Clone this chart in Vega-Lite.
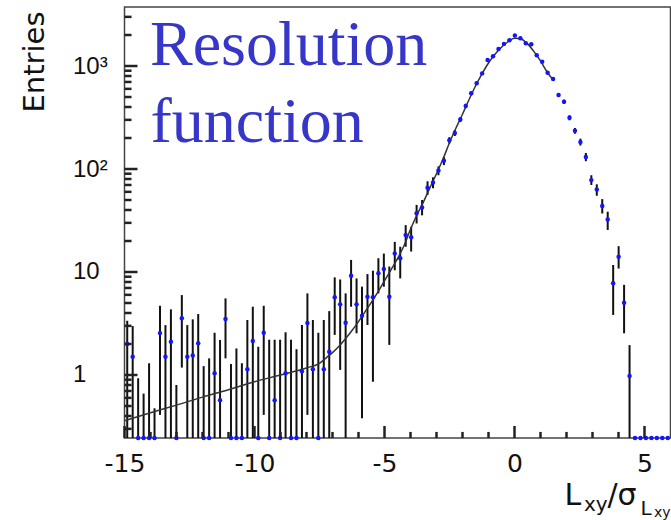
{
  "$schema": "https://vega.github.io/schema/vega-lite/v6.json",
  "width": 546,
  "height": 431,
  "autosize": "none",
  "padding": {"left": 124.5, "top": 7, "right": 0.5, "bottom": 82},
  "background": "white",
  "config": {
    "view": {"stroke": "#444", "strokeWidth": 1.5},
    "axis": {"grid": false, "domain": false, "ticks": false, "labelFlush": false, "labelOverlap": false, "labelBound": false}
  },
  "datasets": {
    "bins": [
      {"x": -14.895, "v": 2.0, "lo": 0, "hi": 3.36},
      {"x": -14.685, "v": 1.5, "lo": 0, "hi": 2.99},
      {"x": -14.475, "v": 0, "lo": 0, "hi": 0.93},
      {"x": -14.265, "v": 0, "lo": 0, "hi": 0.66},
      {"x": -14.055, "v": 0, "lo": 0, "hi": 1.30},
      {"x": -13.845, "v": 0, "lo": 0, "hi": 0.475},
      {"x": -13.635, "v": 2.55, "lo": 0.41, "hi": 4.7},
      {"x": -13.425, "v": 1.5, "lo": 0, "hi": 3.05},
      {"x": -13.215, "v": 2.1, "lo": 0, "hi": 4.34},
      {"x": -13.005, "v": 0, "lo": 0, "hi": 0.80},
      {"x": -12.795, "v": 3.55, "lo": 1.18, "hi": 5.97},
      {"x": -12.585, "v": 1.5, "lo": 0, "hi": 3.05},
      {"x": -12.375, "v": 1.55, "lo": 0, "hi": 3.47},
      {"x": -12.165, "v": 2.03, "lo": 0, "hi": 3.91},
      {"x": -11.955, "v": 0, "lo": 0, "hi": 1.22},
      {"x": -11.745, "v": 0, "lo": 0, "hi": 1.45},
      {"x": -11.535, "v": 1.04, "lo": 0, "hi": 2.57},
      {"x": -11.325, "v": 0.57, "lo": 0, "hi": 2.19},
      {"x": -11.115, "v": 3.49, "lo": 1.45, "hi": 5.54},
      {"x": -10.905, "v": 0, "lo": 0, "hi": 1.28},
      {"x": -10.695, "v": 0, "lo": 0, "hi": 1.81},
      {"x": -10.485, "v": 0, "lo": 0, "hi": 1.3},
      {"x": -10.275, "v": 1.14, "lo": 0, "hi": 3.42},
      {"x": -10.065, "v": 2.14, "lo": 0, "hi": 4.6},
      {"x": -9.855, "v": 0, "lo": 0, "hi": 1.88},
      {"x": -9.645, "v": 2.57, "lo": 0.41, "hi": 4.7},
      {"x": -9.435, "v": 0, "lo": 0, "hi": 2.2},
      {"x": -9.225, "v": 0.57, "lo": 0, "hi": 2.2},
      {"x": -9.015, "v": 0, "lo": 0, "hi": 2.2},
      {"x": -8.805, "v": 1.04, "lo": 0, "hi": 2.6},
      {"x": -8.595, "v": 0, "lo": 0, "hi": 2.2},
      {"x": -8.385, "v": 0, "lo": 0, "hi": 1.78},
      {"x": -8.175, "v": 1.09, "lo": 0, "hi": 3.06},
      {"x": -7.965, "v": 3.2, "lo": 0.41, "hi": 6.2},
      {"x": -7.755, "v": 1.14, "lo": 0, "hi": 3.42},
      {"x": -7.545, "v": 0, "lo": 0, "hi": 2.57},
      {"x": -7.335, "v": 1.14, "lo": 0, "hi": 3.42},
      {"x": -7.125, "v": 1.68, "lo": 0, "hi": 4.17},
      {"x": -6.915, "v": 5.68, "lo": 2.45, "hi": 8.87},
      {"x": -6.705, "v": 4.85, "lo": 1.12, "hi": 8.46},
      {"x": -6.495, "v": 3.22, "lo": 0, "hi": 6.2},
      {"x": -6.285, "v": 9.2, "lo": 4.6, "hi": 13.1},
      {"x": -6.075, "v": 4.85, "lo": 2.54, "hi": 8.66},
      {"x": -5.865, "v": 3.76, "lo": 0.38, "hi": 7.2},
      {"x": -5.655, "v": 5.76, "lo": 3.06, "hi": 9.55},
      {"x": -5.445, "v": 5.68, "lo": 0.86, "hi": 10.3},
      {"x": -5.235, "v": 9.7, "lo": 6.2, "hi": 13.6},
      {"x": -5.025, "v": 10.7, "lo": 7.2, "hi": 15.1},
      {"x": -4.815, "v": 5.76, "lo": 1.96, "hi": 11.3},
      {"x": -4.605, "v": 15.1, "lo": 10.4, "hi": 19.6},
      {"x": -4.395, "v": 13.6, "lo": 8.66, "hi": 17.6},
      {"x": -4.185, "v": 22.9, "lo": 17.6, "hi": 28.5},
      {"x": -3.975, "v": 21.7, "lo": 15.8, "hi": 27.5},
      {"x": -3.765, "v": 37.2, "lo": 29.6, "hi": 44.8},
      {"x": -3.555, "v": 42.4, "lo": 35.5, "hi": 50},
      {"x": -3.345, "v": 65.7, "lo": 56, "hi": 76},
      {"x": -3.135, "v": 74, "lo": 65, "hi": 83},
      {"x": -2.925, "v": 96.5, "lo": 87, "hi": 106},
      {"x": -2.715, "v": 120, "lo": 109, "hi": 131},
      {"x": -2.505, "v": 190, "lo": 176, "hi": 204},
      {"x": -2.295, "v": 224, "lo": 209, "hi": 239},
      {"x": -2.085, "v": 303, "lo": 286, "hi": 320},
      {"x": -1.875, "v": 410, "lo": 390, "hi": 430},
      {"x": -1.665, "v": 543, "lo": 520, "hi": 566},
      {"x": -1.455, "v": 680, "lo": 654, "hi": 706},
      {"x": -1.245, "v": 848, "lo": 819, "hi": 877},
      {"x": -1.035, "v": 1146, "lo": 1112, "hi": 1180},
      {"x": -0.825, "v": 1241, "lo": 1206, "hi": 1276},
      {"x": -0.615, "v": 1465, "lo": 1427, "hi": 1503},
      {"x": -0.405, "v": 1640, "lo": 1600, "hi": 1680},
      {"x": -0.195, "v": 1775, "lo": 1733, "hi": 1817},
      {"x": 0.015, "v": 1980, "lo": 1936, "hi": 2024},
      {"x": 0.225, "v": 1860, "lo": 1817, "hi": 1903},
      {"x": 0.435, "v": 1660, "lo": 1619, "hi": 1701},
      {"x": 0.645, "v": 1630, "lo": 1590, "hi": 1670},
      {"x": 0.855, "v": 1270, "lo": 1234, "hi": 1306},
      {"x": 1.065, "v": 1100, "lo": 1067, "hi": 1133},
      {"x": 1.275, "v": 861, "lo": 832, "hi": 890},
      {"x": 1.485, "v": 748, "lo": 721, "hi": 775},
      {"x": 1.695, "v": 523, "lo": 500, "hi": 546},
      {"x": 1.905, "v": 450, "lo": 429, "hi": 471},
      {"x": 2.115, "v": 315, "lo": 297, "hi": 333},
      {"x": 2.325, "v": 235, "lo": 220, "hi": 250},
      {"x": 2.535, "v": 183, "lo": 169, "hi": 197},
      {"x": 2.745, "v": 131, "lo": 119, "hi": 143},
      {"x": 2.955, "v": 78, "lo": 70, "hi": 87},
      {"x": 3.165, "v": 63.2, "lo": 55, "hi": 71},
      {"x": 3.375, "v": 43.8, "lo": 37, "hi": 51},
      {"x": 3.585, "v": 32.4, "lo": 25.6, "hi": 38.5},
      {"x": 3.795, "v": 7.76, "lo": 3.83, "hi": 11.7},
      {"x": 4.005, "v": 14.1, "lo": 10.8, "hi": 17.8},
      {"x": 4.215, "v": 5.04, "lo": 2.54, "hi": 7.5},
      {"x": 4.425, "v": 0.98, "lo": 0, "hi": 1.95},
      {"x": 4.635, "v": 0, "lo": 0, "hi": 0},
      {"x": 4.845, "v": 0, "lo": 0, "hi": 0},
      {"x": 5.055, "v": 0, "lo": 0, "hi": 0},
      {"x": 5.265, "v": 0, "lo": 0, "hi": 0},
      {"x": 5.475, "v": 0, "lo": 0, "hi": 0},
      {"x": 5.685, "v": 0, "lo": 0, "hi": 0},
      {"x": 5.895, "v": 0, "lo": 0, "hi": 0}
    ],
    "fit": [
      {"cx": -15, "cy": 0.36}, {"cx": -14, "cy": 0.43}, {"cx": -13, "cy": 0.51},
      {"cx": -12, "cy": 0.61}, {"cx": -11, "cy": 0.72}, {"cx": -10, "cy": 0.86},
      {"cx": -9, "cy": 1.0}, {"cx": -8, "cy": 1.17}, {"cx": -7.5, "cy": 1.3},
      {"cx": -7.2, "cy": 1.5}, {"cx": -7, "cy": 1.65}, {"cx": -6.75, "cy": 1.9},
      {"cx": -6.5, "cy": 2.25}, {"cx": -6.25, "cy": 2.7}, {"cx": -6, "cy": 3.3},
      {"cx": -5.75, "cy": 4.1}, {"cx": -5.5, "cy": 5.1}, {"cx": -5.25, "cy": 6.4},
      {"cx": -5, "cy": 8.2}, {"cx": -4.75, "cy": 10.5}, {"cx": -4.5, "cy": 13.5},
      {"cx": -4.25, "cy": 18}, {"cx": -4, "cy": 26}, {"cx": -3.75, "cy": 36},
      {"cx": -3.5, "cy": 48}, {"cx": -3.25, "cy": 66}, {"cx": -3, "cy": 90},
      {"cx": -2.75, "cy": 125}, {"cx": -2.5, "cy": 180}, {"cx": -2.25, "cy": 250},
      {"cx": -2, "cy": 340}, {"cx": -1.75, "cy": 470}, {"cx": -1.5, "cy": 640},
      {"cx": -1.25, "cy": 840}, {"cx": -1, "cy": 1070}, {"cx": -0.75, "cy": 1300},
      {"cx": -0.5, "cy": 1520}, {"cx": -0.25, "cy": 1720}, {"cx": 0, "cy": 1860},
      {"cx": 0.25, "cy": 1830}, {"cx": 0.5, "cy": 1640}, {"cx": 0.75, "cy": 1380},
      {"cx": 1.0, "cy": 1120}, {"cx": 1.25, "cy": 880}, {"cx": 1.47, "cy": 740}
    ],
    "notes": [
      {"t": "Resolution", "tx": -14.02, "ty": 1023},
      {"t": "function", "tx": -14.0, "ty": 184}
    ],
    "xticks": [
      {"tv": -15, "major": true}, {"tv": -14, "major": false}, {"tv": -13, "major": false}, {"tv": -12, "major": false}, {"tv": -11, "major": false},
      {"tv": -10, "major": true}, {"tv": -9, "major": false}, {"tv": -8, "major": false}, {"tv": -7, "major": false}, {"tv": -6, "major": false},
      {"tv": -5, "major": true}, {"tv": -4, "major": false}, {"tv": -3, "major": false}, {"tv": -2, "major": false}, {"tv": -1, "major": false},
      {"tv": 0, "major": true}, {"tv": 1, "major": false}, {"tv": 2, "major": false}, {"tv": 3, "major": false}, {"tv": 4, "major": false},
      {"tv": 5, "major": true}
    ],
    "yticks": [
      {"tv": 0.3, "major": false}, {"tv": 0.4, "major": false}, {"tv": 0.5, "major": false}, {"tv": 0.6, "major": false}, {"tv": 0.7, "major": false}, {"tv": 0.8, "major": false}, {"tv": 0.9, "major": false},
      {"tv": 1, "major": true},
      {"tv": 2, "major": false}, {"tv": 3, "major": false}, {"tv": 4, "major": false}, {"tv": 5, "major": false}, {"tv": 6, "major": false}, {"tv": 7, "major": false}, {"tv": 8, "major": false}, {"tv": 9, "major": false},
      {"tv": 10, "major": true},
      {"tv": 20, "major": false}, {"tv": 30, "major": false}, {"tv": 40, "major": false}, {"tv": 50, "major": false}, {"tv": 60, "major": false}, {"tv": 70, "major": false}, {"tv": 80, "major": false}, {"tv": 90, "major": false},
      {"tv": 100, "major": true},
      {"tv": 200, "major": false}, {"tv": 300, "major": false}, {"tv": 400, "major": false}, {"tv": 500, "major": false}, {"tv": 600, "major": false}, {"tv": 700, "major": false}, {"tv": 800, "major": false}, {"tv": 900, "major": false},
      {"tv": 1000, "major": true},
      {"tv": 2000, "major": false}, {"tv": 3000, "major": false}
    ]
  },
  "resolve": {"axis": {"x": "independent", "y": "independent"}},
  "layer": [
    {
      "data": {"name": "bins"},
      "mark": {"type": "rule", "color": "#111", "strokeWidth": 2, "invalid": null},
      "encoding": {
        "x": {"field": "x", "type": "quantitative",
              "scale": {"domain": [-15, 6], "nice": false, "zero": false},
              "axis": {"orient": "bottom", "values": [-15, -10, -5, 0, 5],
                       "labelExpr": "'' + datum.value",
                       "labelFont": "DejaVu Sans", "labelFontSize": 25, "labelColor": "#111",
                       "labelBaseline": "alphabetic", "labelPadding": 33,
                       "title": "L", "titleFont": "DejaVu Sans", "titleFontSize": 30, "titleFontWeight": "normal", "titleColor": "#111",
                       "titleAlign": "left", "titleBaseline": "alphabetic", "titleX": 439.5, "titleY": 66}},
        "y": {"field": "lo", "type": "quantitative",
              "scale": {"type": "log", "domain": [0.2445, 3740], "nice": false, "clamp": true},
              "axis": {"orient": "left", "values": [1, 10, 100, 1000],
                       "labelExpr": "datum.value == 1000 ? '10³' : datum.value == 100 ? '10²' : datum.value == 10 ? '10' : '1'",
                       "labelFont": "Liberation Sans", "labelFontSize": 24, "labelColor": "#111",
                       "labelAlign": "left", "labelBaseline": "middle", "labelPadding": 52,
                       "title": "Entries", "titleFont": "DejaVu Sans", "titleFontSize": 29, "titleFontWeight": "normal", "titleColor": "#111",
                       "titleAngle": 270, "titleAlign": "right", "titleBaseline": "alphabetic", "titleX": -81.5, "titleY": 4}},
        "y2": {"field": "hi"}
      }
    },
    {
      "data": {"name": "fit"},
      "mark": {"type": "line", "color": "#333", "strokeWidth": 1.5, "interpolate": "monotone"},
      "encoding": {
        "x": {"field": "cx", "type": "quantitative",
              "scale": {"domain": [-15, 6], "nice": false, "zero": false},
              "axis": {"orient": "bottom", "labels": false,
                       "title": "xy", "titleFont": "DejaVu Sans", "titleFontSize": 20, "titleFontWeight": "normal", "titleColor": "#111",
                       "titleAlign": "left", "titleBaseline": "alphabetic", "titleX": 459, "titleY": 72}},
        "y": {"field": "cy", "type": "quantitative",
              "scale": {"type": "log", "domain": [0.2445, 3740], "nice": false, "clamp": true},
              "axis": null}
      }
    },
    {
      "data": {"name": "bins"},
      "mark": {"type": "point", "filled": true, "shape": "circle", "size": 20, "color": "#1414ff", "opacity": 1, "invalid": null},
      "encoding": {
        "x": {"field": "x", "type": "quantitative",
              "scale": {"domain": [-15, 6], "nice": false, "zero": false},
              "axis": {"orient": "bottom", "labels": false,
                       "title": "/σ", "titleFont": "DejaVu Sans", "titleFontSize": 30, "titleFontWeight": "normal", "titleColor": "#111",
                       "titleAlign": "left", "titleBaseline": "alphabetic", "titleX": 482.5, "titleY": 66}},
        "y": {"field": "v", "type": "quantitative",
              "scale": {"type": "log", "domain": [0.2445, 3740], "nice": false, "clamp": true},
              "axis": null}
      }
    },
    {
      "data": {"name": "notes"},
      "transform": [{"filter": "datum.t == 'Resolution'"}],
      "mark": {"type": "text", "align": "left", "baseline": "alphabetic", "font": "Liberation Serif", "fontSize": 64, "color": "#3636c8"},
      "encoding": {
        "x": {"field": "tx", "type": "quantitative",
              "scale": {"domain": [-15, 6], "nice": false, "zero": false},
              "axis": {"orient": "bottom", "labels": false,
                       "title": "L", "titleFont": "DejaVu Sans", "titleFontSize": 20, "titleFontWeight": "normal", "titleColor": "#111",
                       "titleAlign": "left", "titleBaseline": "alphabetic", "titleX": 515.5, "titleY": 76}},
        "y": {"field": "ty", "type": "quantitative",
              "scale": {"type": "log", "domain": [0.2445, 3740], "nice": false, "clamp": true},
              "axis": null},
        "text": {"field": "t"}
      }
    },
    {
      "data": {"name": "notes"},
      "transform": [{"filter": "datum.t == 'function'"}],
      "mark": {"type": "text", "align": "left", "baseline": "alphabetic", "font": "Liberation Serif", "fontSize": 64, "color": "#3636c8"},
      "encoding": {
        "x": {"field": "tx", "type": "quantitative",
              "scale": {"domain": [-15, 6], "nice": false, "zero": false},
              "axis": {"orient": "bottom", "labels": false,
                       "title": "xy", "titleFont": "DejaVu Sans", "titleFontSize": 14, "titleFontWeight": "normal", "titleColor": "#111",
                       "titleAlign": "left", "titleBaseline": "alphabetic", "titleX": 529, "titleY": 78}},
        "y": {"field": "ty", "type": "quantitative",
              "scale": {"type": "log", "domain": [0.2445, 3740], "nice": false, "clamp": true},
              "axis": null},
        "text": {"field": "t"}
      }
    },
    {
      "data": {"name": "xticks"},
      "transform": [{"filter": "datum.major"}],
      "mark": {"type": "rule", "color": "#222", "strokeWidth": 2.5},
      "encoding": {
        "x": {"field": "tv", "type": "quantitative", "scale": {"domain": [-15, 6], "nice": false, "zero": false}, "axis": null},
        "y": {"datum": 0.2445, "type": "quantitative", "scale": {"type": "log", "domain": [0.2445, 3740], "nice": false, "clamp": true}, "axis": null},
        "y2": {"datum": 0.32}
      }
    },
    {
      "data": {"name": "xticks"},
      "transform": [{"filter": "!datum.major"}],
      "mark": {"type": "rule", "color": "#222", "strokeWidth": 2.5},
      "encoding": {
        "x": {"field": "tv", "type": "quantitative", "scale": {"domain": [-15, 6], "nice": false, "zero": false}, "axis": null},
        "y": {"datum": 0.2445, "type": "quantitative", "scale": {"type": "log", "domain": [0.2445, 3740], "nice": false, "clamp": true}, "axis": null},
        "y2": {"datum": 0.28}
      }
    },
    {
      "data": {"name": "yticks"},
      "transform": [{"filter": "datum.major"}],
      "mark": {"type": "rule", "color": "#222", "strokeWidth": 2.5},
      "encoding": {
        "x": {"datum": -15, "type": "quantitative", "scale": {"domain": [-15, 6], "nice": false, "zero": false}, "axis": null},
        "x2": {"datum": -14.5},
        "y": {"field": "tv", "type": "quantitative", "scale": {"type": "log", "domain": [0.2445, 3740], "nice": false, "clamp": true}, "axis": null}
      }
    },
    {
      "data": {"name": "yticks"},
      "transform": [{"filter": "!datum.major"}],
      "mark": {"type": "rule", "color": "#222", "strokeWidth": 2.5},
      "encoding": {
        "x": {"datum": -15, "type": "quantitative", "scale": {"domain": [-15, 6], "nice": false, "zero": false}, "axis": null},
        "x2": {"datum": -14.73},
        "y": {"field": "tv", "type": "quantitative", "scale": {"type": "log", "domain": [0.2445, 3740], "nice": false, "clamp": true}, "axis": null}
      }
    }
  ]
}
